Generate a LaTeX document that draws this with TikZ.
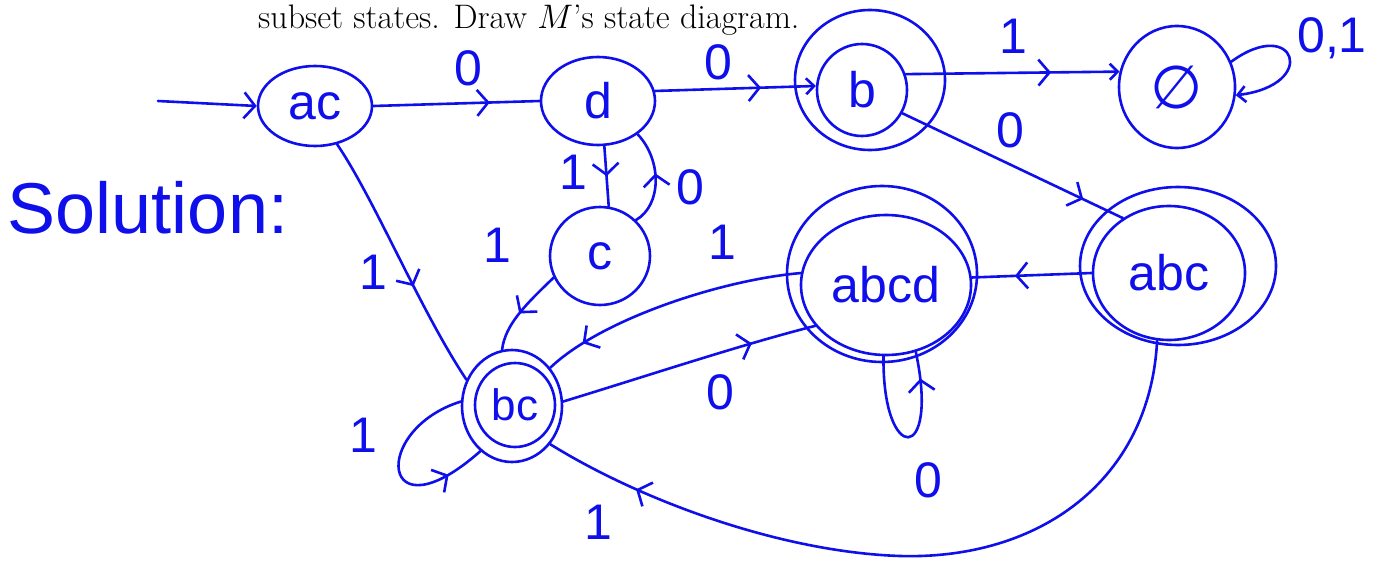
\RequirePackage{fix-cm}
\documentclass[tikz,border=0pt]{standalone}
\usepackage{fontspec}
\newfontfamily\hand{Liberation Sans}
\newfontfamily\symb{DejaVu Sans}
\usetikzlibrary{shapes.geometric,arrows.meta,decorations.markings}
\definecolor{ink}{RGB}{15,15,235}
\begin{document}
\begin{tikzpicture}[x=1pt,y=-1pt,
  pen/.style={draw=ink,line width=2.6pt,line cap=round,line join=round},
  st/.style={pen,ellipse,inner sep=0pt,text=ink,font=\hand\fontsize{50}{50}\selectfont},
  rim/.style={pen,ellipse,inner sep=0pt},
  lbl/.style={text=ink,inner sep=0pt,font=\hand\fontsize{50}{50}\selectfont},
  tipend/.style={-{Straight Barb[length=8pt,width=16pt]}},
  chev/.style={postaction={decorate},decoration={markings,
      mark=at position #1 with {\arrow{Straight Barb[length=11pt,width=26pt]}}}}
]
\useasboundingbox (0,0) rectangle (1375,562);

% heading line
\node[anchor=base west,inner sep=0pt,font=\fontsize{34}{40}\selectfont] (head) at (258,28)
  {subset states. Draw $M$'s state diagram.};

\node[text=ink,inner sep=0pt,font=\hand\fontsize{72}{72}\selectfont] (sol) at (148,208) {Solution:};

% states
\node[st,minimum width=114pt,minimum height=80pt] (ac) at (315,106) {ac};
\node[st,minimum width=114pt,minimum height=88pt] (d) at (598,101) {d};
\node[st,minimum width=90pt,minimum height=92pt] (b) at (862,90) {b};
\node[rim,minimum width=150pt,minimum height=140pt] (bo) at (870,80) {};
\node[st,minimum width=116pt,minimum height=122pt,font=\symb\fontsize{60}{60}\selectfont] (e) at (1177,87) {∅};
\node[st,minimum width=100pt,minimum height=98pt] (c) at (600,256) {c};
\node[st,minimum width=80pt,minimum height=84pt,font=\hand\fontsize{44}{44}\selectfont] (bc) at (515,405) {bc};
\node[rim,minimum width=100pt,minimum height=112pt] (bco) at (512,406) {};
\node[st,minimum width=170pt,minimum height=140pt] (abcd) at (886,285) {abcd};
\node[rim,minimum width=190pt,minimum height=176pt] (abcdo) at (882,274) {};
\node[st,minimum width=152pt,minimum height=134pt] (abc) at (1169,273) {abc};
\node[rim,minimum width=196pt,minimum height=158pt] (abco) at (1178,266) {};

% start arrow
\coordinate (s) at (158,101);
\draw[pen,-{Straight Barb[length=11pt,width=26pt]}] (s) -- (ac.west);

% transitions
\draw[pen,chev=0.7] (ac.east) -- (d.west);
\node[lbl] (l0a) at (468,68) {0};

\draw[pen,chev=0.66,tipend] (d.10) -- (b.175);
\node[lbl] (l0b) at (718,62) {0};

\draw[pen,chev=0.68,tipend] (b.20) -- (e.165);
\node[lbl] (l1a) at (1013,36) {1};

\draw[pen,chev=0.82] (b.-30) -- (abc.130);
\node[lbl] (l0c) at (1010,130) {0};

\draw[pen,tipend] (e.25) .. controls (1295,15) and (1320,85) .. (e.-8);
\node[lbl] (l01) at (1332,38) {0,1};

\draw[pen,chev=0.5] (d.-82) -- (c.80);
\node[lbl] (l1b) at (573,172) {1};

\draw[pen,chev=0.55] (c.45) .. controls (662,205) and (662,160) .. (d.-40);
\node[lbl] (l0d) at (690,187) {0};

\draw[pen,chev=0.6] (ac.-60) .. controls (375,200) and (420,310) .. (bco.150);
\node[lbl] (l1c) at (373,272) {1};

\draw[pen,chev=0.55] (c.205) .. controls (525,305) and (505,325) .. (bco.100);
\node[lbl] (l1d) at (497,245) {1};

\draw[pen,chev=0.85] (abcd.172) .. controls (720,280) and (600,320) .. (bco.45);
\node[lbl] (l1e) at (722,242) {1};

\draw[pen,chev=0.75] (bco.5) .. controls (650,375) and (740,345) .. (abcd.210);
\node[lbl] (l0e) at (720,392) {0};

\draw[pen,chev=0.85] (abcd.-92) .. controls (882,465) and (940,465) .. (abcd.-66);
\node[lbl] (l0f) at (928,480) {0};

\draw[pen,chev=0.64] (abc.180) -- (abcd.5);

\draw[pen,chev=0.87] (abc.-100) .. controls (1150,480) and (1040,560) .. (900,556)
  .. controls (780,552) and (640,500) .. (bco.-45);
\node[lbl] (l1f) at (598,522) {1};

\draw[pen,chev=0.8] (bco.175) .. controls (370,430) and (380,540) .. (bco.-125);
\node[lbl] (l1g) at (363,435) {1};
\end{tikzpicture}
\end{document}
